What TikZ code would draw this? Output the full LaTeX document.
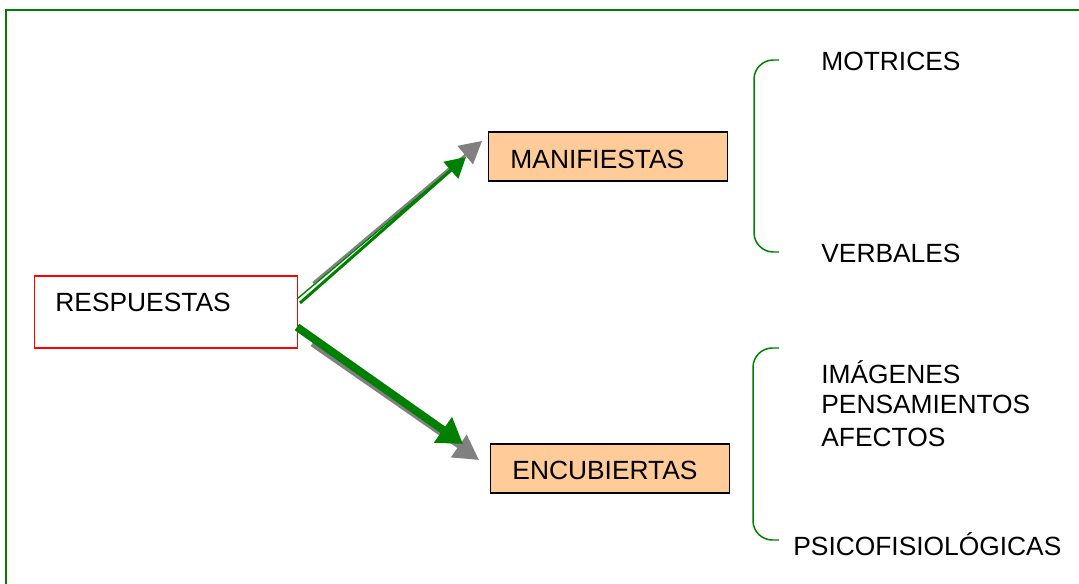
\documentclass[tikz,border=0pt]{standalone}
\usepackage{fontspec}
\setmainfont{Liberation Sans}
\usetikzlibrary{arrows.meta,positioning}

\definecolor{peach}{RGB}{255,204,153}
\definecolor{leafgreen}{RGB}{0,128,0}

\begin{document}
\begin{tikzpicture}[x=0.02cm, y=-0.02cm,
    every node/.style={font=\fontsize{15}{18}\selectfont},
    typebox/.style={draw=black, line width=1pt, fill=peach,
      minimum width=136pt, minimum height=27.8pt,
      inner xsep=12.5pt, text width=111pt, align=left},
    item/.style={anchor=base west, inner sep=0pt},
    brace/.style={draw=leafgreen, line width=0.85pt, rounded corners=11pt},
    shade/.style={draw=gray, fill=gray},
    lead/.style={draw=leafgreen, fill=leafgreen}]
    \useasboundingbox[fill=white] (0,0) rectangle (1079,584);
    % outer frame
    \draw[leafgreen, line width=1.3pt] (6,590) |- (1085,10);

    \node[draw=red, line width=1pt, minimum width=149.7pt, minimum height=40.8pt,
          inner xsep=11.9pt, text width=125.9pt, align=left,
          text height=10pt, text depth=10pt] (resp) at (166,312) {RESPUESTAS};
    \node[typebox, text height=14pt, text depth=0pt] (manif) at (608,156.5) {MANIFIESTAS};
    \node[typebox, inner xsep=12pt, text height=13pt, text depth=0pt] (encub) at (610,468.5) {ENCUBIERTAS};

    % arrows, shadow first
    \coordinate (upS) at (313,283);   \coordinate (upSe) at (482,141);
    \coordinate (upA) at (297,299);   \coordinate (upAe) at (461,161);
    \coordinate (upB) at (300,303);   \coordinate (upBe) at (466,157);
    \coordinate (lowS) at (312,344);  \coordinate (lowSe) at (479,460);
    \coordinate (lowG) at (297,327);  \coordinate (lowGe) at (463,444);
    \draw[shade, line width=1.3pt, -{Triangle[length=12.5pt,width=13.5pt]}] (upS) -- (upSe);
    \draw[lead, line width=0.8pt] (upA) -- (upAe);
    \draw[lead, line width=1.7pt, -{Triangle[length=11.5pt,width=12.5pt]}] (upB) -- (upBe);
    \draw[shade, line width=2.8pt, -{Triangle[length=14pt,width=15pt]}] (lowS) -- (lowSe);
    \draw[lead, line width=4.5pt, -{Triangle[length=14pt,width=17pt]}] (lowG) -- (lowGe);

    % braces
    \draw[brace] (779,60) -- (754,60) -- (754,252) -- (779,252);
    \draw[brace] (779,348) -- (753,348) -- (753,540) -- (779,540);

    \node[item] (motrices) at (821,71) {MOTRICES};
    \node[item] (verbales) at (821,263) {VERBALES};
    \node[item] (imagenes) at (821,383) {IMÁGENES};
    \node[item] (pensam) at (821,414) {PENSAMIENTOS};
    \node[item] (afectos) at (821,446) {AFECTOS};
    \node[item] (psico) at (793,555) {PSICOFISIOLÓGICAS};
\end{tikzpicture}
\end{document}
